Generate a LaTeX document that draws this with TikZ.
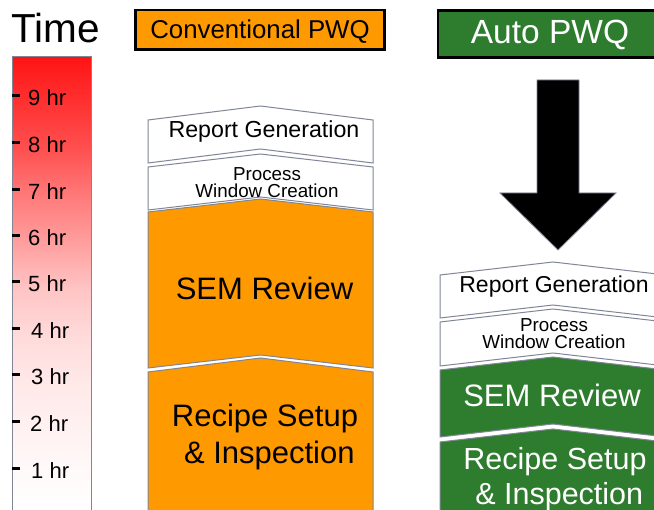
\documentclass[tikz,border=0pt]{standalone}
\usepackage{fontspec}
\setmainfont{Liberation Sans}
\definecolor{pwqorange}{RGB}{255,153,0}
\definecolor{pwqgreen}{RGB}{46,125,46}
\definecolor{edgegray}{RGB}{128,134,150}
\newcommand\fs[2]{\fontsize{#1}{#2}\selectfont}
\pgfdeclareverticalshading{timebar}{100bp}{color(0bp)=(white); color(25bp)=(white); color(30bp)=(rgb,255:red,255;green,250;blue,250); color(40bp)=(rgb,255:red,255;green,232;blue,232); color(45bp)=(rgb,255:red,255;green,218;blue,218); color(50bp)=(rgb,255:red,255;green,196;blue,196); color(55bp)=(rgb,255:red,255;green,158;blue,158); color(60bp)=(rgb,255:red,255;green,122;blue,122); color(65bp)=(rgb,255:red,255;green,80;blue,80); color(70bp)=(rgb,255:red,255;green,50;blue,50); color(75bp)=(rgb,255:red,255;green,20;blue,20); color(100bp)=(rgb,255:red,255;green,20;blue,20)}
\newcommand\chev[7]{\path[#1] (#2,#5) -- (#3,#5-#7) -- (#4,#5) -- (#4,#6) -- (#3,#6-#7) -- (#2,#6) -- cycle;}
\begin{document}
\begin{tikzpicture}[x=1pt,y=-1pt,
  block/.style={draw=edgegray, line width=1pt, line join=miter},
  lbl/.style={inner sep=0pt, anchor=base},
  hrlbl/.style={inner sep=0pt, anchor=base west, font=\fs{22}{22}},
  tickmark/.style={fill=black},
  header/.style={draw=black, line width=2.5pt}]
\useasboundingbox (0,0) rectangle (654,510);
\begin{scope}
\clip (0,0) rectangle (654,510);
\fill[white] (0,0) rectangle (654,510);
% time bar
\shade[shading=timebar] (12,57) rectangle (91,520);
\draw[edgegray, line width=1pt] (12,520) -- (12,57) -- (91,57) -- (91,520);
\node[inner sep=0pt, anchor=base west, font=\fs{40.5}{40.5}] (time) at (11,43) {Time};
\foreach \h/\yy/\xx in {9/96/28,8/143/28,7/189.5/28,6/235.5/28,5/282/28,4/328.5/31,3/375/31,2/421.5/30,1/469/31}{
  \fill[tickmark] (12,\yy-1.5) rectangle (19.5,\yy+1.5);
  \node[hrlbl] (hr\h) at (\xx,\yy+10) {\h\ hr};
}
% headers
\path[header, fill=pwqorange] (135.5,10) rectangle (384.5,49.5);
\node[lbl, font=\fs{25.8}{25.8}] (conv) at (260,38.5) {Conventional PWQ};
\path[header, fill=pwqgreen] (438,10.5) rectangle (680,57.5);
\node[lbl, font=\fs{33.5}{33.5}, text=white] (auto) at (550,43.5) {Auto PWQ};
% big arrow
\path[fill=black, draw=edgegray, line width=0.8pt, line join=miter] (537,80) -- (579,80) -- (579,193) -- (616,193) -- (558,250) -- (500,193) -- (537,193) -- cycle;
% left column
\chev{block,fill=white}{148}{260.5}{373}{120}{163}{14}
\chev{block,fill=white}{148}{260.5}{373}{167}{210}{13}
\chev{block,fill=pwqorange}{148}{260.5}{373}{212}{368}{13}
\chev{block,fill=pwqorange}{148}{260.5}{373}{372}{540}{14}
\node[lbl, font=\fs{23.2}{23.2}] (lrep) at (264,138) {Report Generation};
\node[inner sep=0pt, align=center, anchor=center, font=\fs{18.8}{17}] (lpwc) at (267,182.5) {Process\\Window Creation};
\node[lbl, font=\fs{31}{31}] (lsem) at (264.5,300) {SEM Review};
\node[inner sep=0pt, align=center, anchor=center, font=\fs{31}{37}] (lrec) at (265,437) {Recipe Setup\\\mbox{}\ \& Inspection};
% right column
\chev{block,fill=white}{440}{553}{666}{275}{318}{13}
\chev{block,fill=white}{440}{553}{666}{322}{366}{13}
\chev{block,fill=pwqgreen}{440}{553}{666}{370}{437}{13}
\chev{block,fill=pwqgreen}{440}{553}{666}{442}{540}{13}
\node[lbl, font=\fs{23}{23}] (rrep) at (554,293) {Report Generation};
\node[inner sep=0pt, align=center, anchor=center, font=\fs{18.8}{17}] (rpwc) at (554,334) {Process\\Window Creation};
\node[lbl, font=\fs{31}{31}, text=white] (rsem) at (552,406.5) {SEM Review};
\node[inner sep=0pt, align=center, anchor=center, font=\fs{30.5}{35}, text=white] (rrec) at (555,479) {Recipe Setup\\\mbox{}\ \& Inspection};
\end{scope}
\end{tikzpicture}
\end{document}
